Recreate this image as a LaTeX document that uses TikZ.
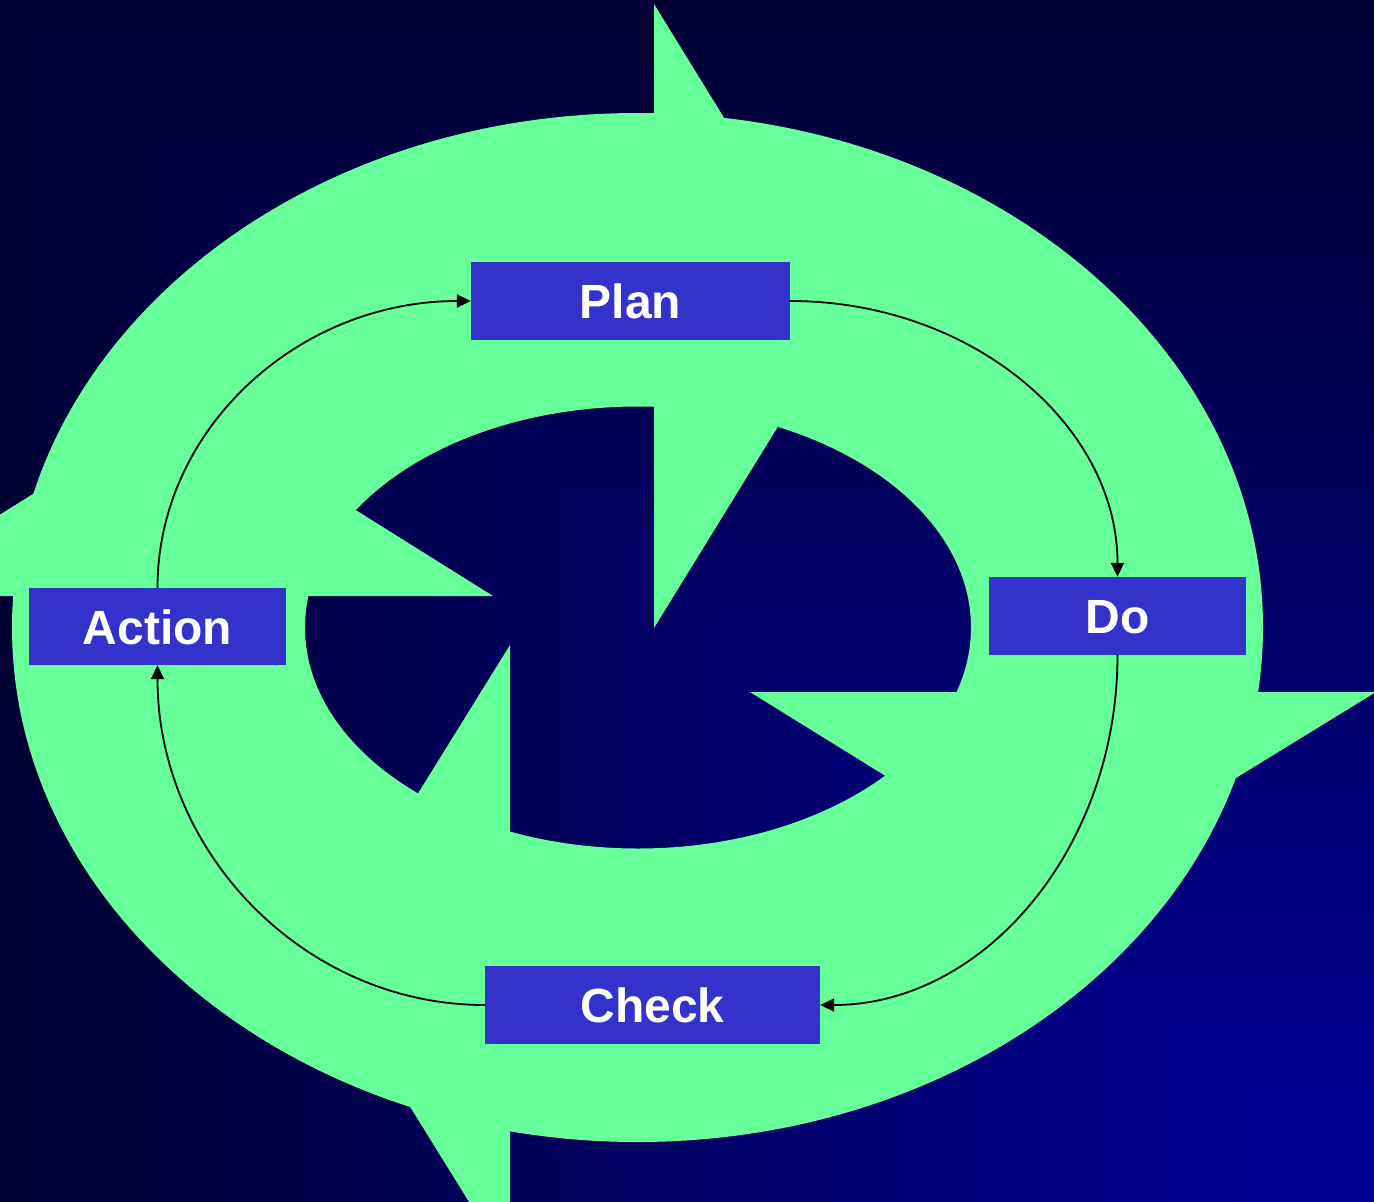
\documentclass[tikz,border=0pt]{standalone}
\usepackage{fontspec}
\setmainfont{Liberation Sans}
\usetikzlibrary{arrows.meta}
\definecolor{bgdark}{RGB}{0,0,51}
\definecolor{bglight}{RGB}{0,0,153}
\definecolor{ringgreen}{RGB}{102,255,153}
\definecolor{boxblue}{RGB}{51,51,204}
\tikzset{
  stagebox/.style={fill=boxblue, text=white, inner sep=0pt, text height=35pt, text depth=0pt,
    font=\fontsize{48}{48}\selectfont\bfseries},
  conn/.style={line width=1.8pt, -{Triangle[length=14pt,width=13pt]}},
  ringfill/.style={fill=ringgreen}
}
\begin{document}
\begin{tikzpicture}[x=1pt,y=-1pt]
\path[use as bounding box] (0,0) rectangle (1374,1202);
% background: rectangular gradient from bottom-right corner
\shade[top color=bgdark, bottom color=bglight] (0,0) rectangle (1374,1202);
\shade[left color=bgdark, right color=bglight] (0,0) -- (0,1202) -- (1374,1202) -- cycle;
\begin{scope}
\clip (0,0) rectangle (1374,1202);
% ring
\fill[ringfill, even odd rule] (637.5,627.5) ellipse [x radius=625.5pt, y radius=514.5pt]
  (638,627.5) ellipse [x radius=333pt, y radius=221pt];
% arrowheads
\fill[ringfill] (654,4) -- (654,628) -- (846,316) -- cycle;
\fill[ringfill] (1376,692) -- (750,692) -- (1061.5,885) -- cycle;
\fill[ringfill] (510,645) -- (510,1268) -- (317,956.5) -- cycle;
\fill[ringfill] (-130,596) -- (493,596) -- (181.5,401) -- cycle;
\end{scope}
% stages
\node[stagebox, minimum width=319pt, minimum height=78pt] (plan) at (630.5,301) {Plan};
\node[stagebox, minimum width=257pt, minimum height=78pt] (do) at (1117.5,616) {Do};
\node[stagebox, minimum width=335pt, minimum height=78pt] (check) at (652.5,1005) {Check};
\node[stagebox, minimum width=257pt, minimum height=77pt] (action) at (157.5,626.5) {Action};
% connectors
\draw[conn] (plan.east) .. controls +(180.6,0) and +(0,-152.4) .. (do.north);
\draw[conn] (do.south) .. controls +(0,192.7) and +(164,0) .. (check.east);
\draw[conn] (check.west) .. controls +(-180.6,0) and +(0,187.2) .. (action.south);
\draw[conn] (action.north) .. controls +(0,-158.5) and +(-172.9,0) .. (plan.west);
\end{tikzpicture}
\end{document}
